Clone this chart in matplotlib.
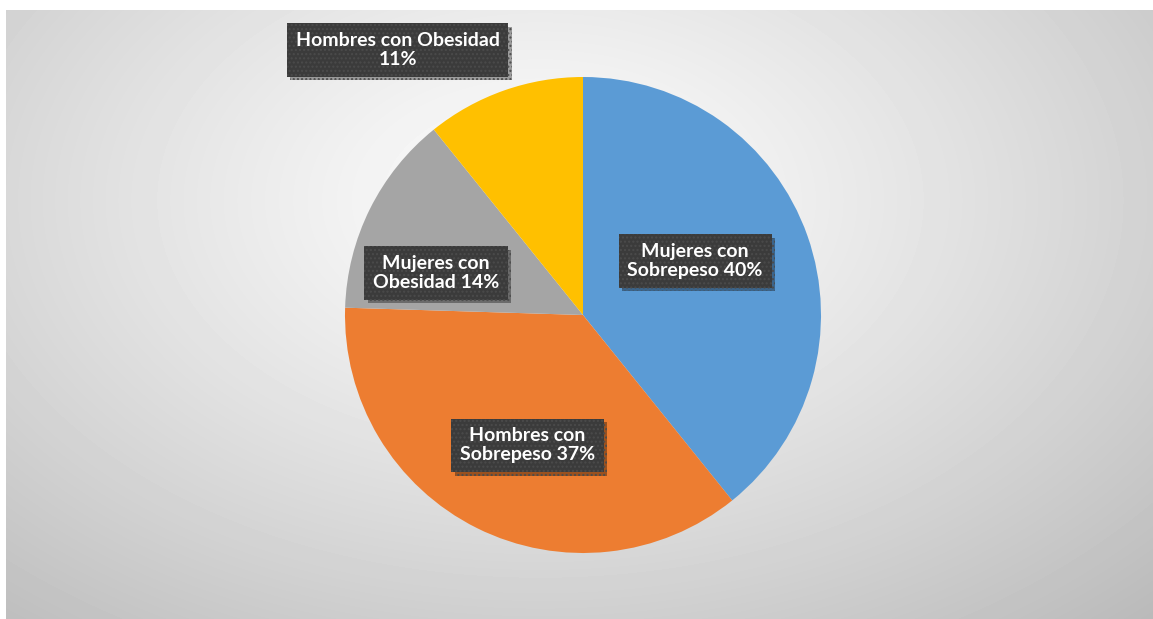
import numpy as np
import matplotlib
matplotlib.use("Agg")
import matplotlib.pyplot as plt
import matplotlib.patheffects as pe

# data (clockwise from 12 o'clock)
categories = ["Mujeres con Sobrepeso", "Hombres con Sobrepeso",
              "Mujeres con Obesidad", "Hombres con Obesidad"]
values = [40, 37, 14, 11]
colors = ["#5B9BD5", "#ED7D31", "#A5A5A5", "#FFC000"]

# label text with the line breaks used in the original
label_texts = [
    "Mujeres con\nSobrepeso 40%",
    "Hombres con\nSobrepeso 37%",
    "Mujeres con\nObesidad 14%",
    "Hombres con Obesidad\n11%",
]
# label box centres in pie units (radius = 1)
label_pos = [(0.471, 0.227), (-0.233, -0.548), (-0.618, 0.176), (-0.779, 1.113)]

W, H = 1153, 619
fig = plt.figure(figsize=(W / 100, H / 100), dpi=100)
fig.patch.set_facecolor("white")

# chart area with radial grey gradient
x0, y0 = 6, 10  # top-left of chart area in px
bg = fig.add_axes([x0 / W, 0, (W - x0) / W, (H - y0) / H])
xx, yy = np.meshgrid(np.arange(x0, W), np.arange(y0, H))
d = np.sqrt(((xx - 540) / 680.0) ** 2 + ((yy - 200) / 440.0) ** 2)
v = np.clip(0.99 - 0.19 * d ** 1.2, 0, 1)
bg.imshow(v, cmap="gray", vmin=0, vmax=1, aspect="auto", interpolation="bilinear")
bg.axis("off")

# pie axes: centre (583, 315) px, radius 238 px
cx, cy, r = 583, 315, 238
ax = fig.add_axes([(cx - r) / W, (H - cy - r) / H, 2 * r / W, 2 * r / H])
ax.pie(values, colors=colors, startangle=90, counterclock=False,
       wedgeprops=dict(linewidth=0))
ax.set_xlim(-1, 1)
ax.set_ylim(-1, 1)
ax.set_aspect("equal")
ax.axis("off")

for txt, (lx, ly) in zip(label_texts, label_pos):
    t = ax.text(lx, ly, txt, ha="center", va="center", multialignment="center",
                color="white", fontsize=14, fontweight="bold", family="Lato",
                linespacing=1.15, zorder=5, clip_on=False,
                bbox=dict(boxstyle="square,pad=0.45", fc="#3b3b3b",
                          ec="#4b4b4b", lw=0, hatch="...."))
    t.get_bbox_patch().set_path_effects([
        pe.SimplePatchShadow(offset=(2.5, -2.5), shadow_rgbFace="black", alpha=0.35),
        pe.Normal(),
    ])

fig.savefig("out.png", dpi=100)
